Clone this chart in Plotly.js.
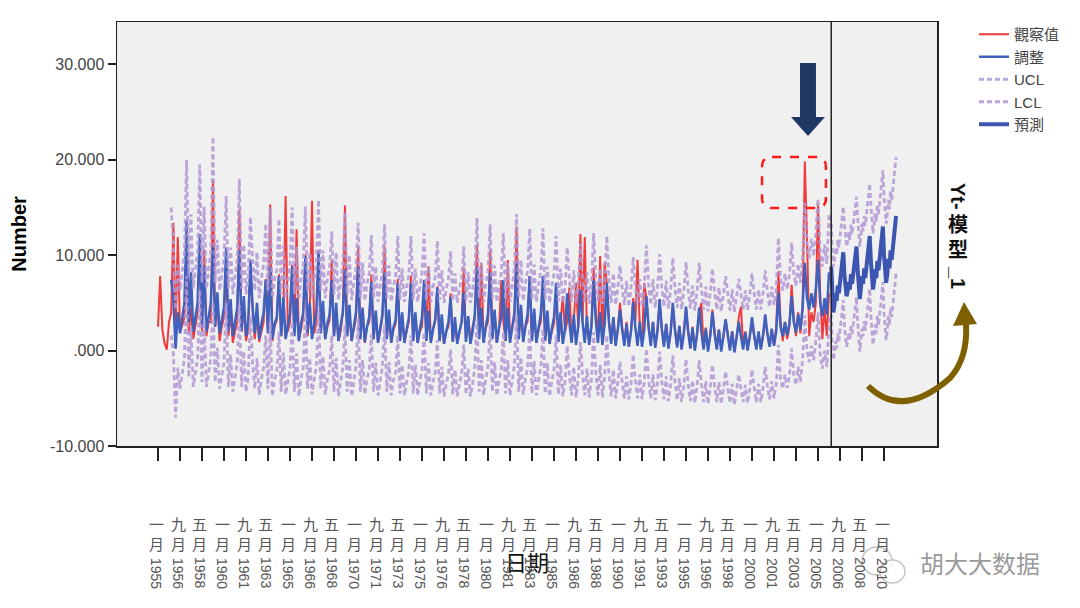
<!DOCTYPE html>
<html>
<head>
<meta charset="utf-8">
<script src="https://cdn.plot.ly/plotly-3.0.1.min.js"></script>
<style>html,body{margin:0;padding:0;background:#fff;}#chart{width:1080px;height:608px;}</style>
</head>
<body>
<div id="chart"></div>
<script>
const observed = [
2.5,7.8,2.2,0.8,0.1,3.0,
4.0,13.4,1.5,11.9,2.0,2.6,
3.5,9.5,1.8,4.5,1.2,2.8,
4.0,11.0,2.0,10.6,1.5,3.0,
3.0,17.8,2.5,5.0,1.0,2.5,
3.5,9.0,1.5,4.0,0.8,2.0,
3.0,14.8,2.0,4.5,1.0,2.2,
8.5,4.6,1.2,3.8,0.9,2.0,
3.0,7.5,2.0,15.3,1.0,2.5,
3.2,8.0,1.5,4.0,16.2,2.0,
3.0,9.0,1.8,12.7,1.0,2.2,
3.5,10.0,1.5,4.2,15.7,1.8,
3.0,10.5,2.0,4.5,1.2,2.5,
3.2,9.5,1.5,4.0,1.0,2.0,
4.0,15.2,1.5,4.2,1.0,2.2,
3.5,10.9,1.5,4.0,0.8,2.5,
3.0,8.0,1.2,3.5,0.9,2.0,
3.5,10.9,1.5,3.8,0.8,2.2,
2.8,7.5,1.0,3.5,1.0,2.0,
3.0,7.8,1.2,3.6,0.8,2.0,
2.5,7.0,1.5,8.8,1.0,2.2,
3.2,6.7,1.0,3.2,0.7,2.0,
2.5,6.0,1.0,3.0,0.8,1.8,
3.0,8.7,1.2,3.5,0.9,2.5,
3.5,11.1,1.5,9.2,1.0,2.4,
3.0,10.6,1.4,4.0,0.8,2.2,
7.4,3.0,1.0,9.5,1.2,2.5,
3.5,13.0,1.5,4.5,1.0,2.6,
3.0,7.8,1.2,4.0,0.9,2.2,
3.0,6.4,1.2,3.5,0.8,2.0,
2.8,6.0,1.0,3.0,5.7,2.0,
3.0,6.6,1.0,3.0,7.1,2.5,
12.2,3.0,11.9,2.0,1.0,2.5,
8.7,4.0,1.2,9.9,1.0,9.2,
7.0,3.0,1.0,3.5,0.8,2.2,
5.0,2.5,0.8,3.0,0.5,2.0,
5.5,3.0,9.5,2.5,0.8,7.1,
5.5,2.5,0.8,3.0,0.5,2.0,
5.0,2.4,0.6,2.8,0.4,1.8,
4.6,2.2,0.5,2.6,0.3,1.8,
4.5,2.0,0.4,2.5,0.2,1.6,
4.0,5.0,0.5,2.4,0.3,1.5,
4.3,2.0,0.4,2.2,0.2,1.5,
3.2,1.8,0.3,2.0,0.2,1.4,
3.5,4.6,0.5,2.0,0.4,1.5,
3.0,1.5,0.3,1.8,0.3,1.5,
3.2,1.8,0.5,2.0,0.5,2.5,
8.3,3.0,1.0,3.0,1.2,2.5,
6.9,3.5,1.5,4.0,1.8,4.5,
19.8,12.0,1.5,4.0,3.0,5.0,
15.5,6.0,1.2,4.5,1.5,6.0
];
const fitted = [
7.4,5.5,0.2,4.0,1.8,3.5,
5.0,13.6,3.0,8.2,2.0,3.5,
5.0,12.2,2.5,8.9,2.0,3.5,
5.0,10.9,2.5,6.1,1.8,3.2,
4.5,10.8,2.0,5.4,1.5,3.0,
4.5,10.6,2.0,5.7,1.5,3.0,
9.5,4.5,1.8,5.0,1.2,2.8,
4.0,7.4,1.8,8.8,1.2,2.8,
3.5,7.8,1.5,5.6,1.2,2.6,
4.0,8.8,1.5,5.5,1.0,2.8,
4.0,9.9,1.8,5.0,1.2,2.8,
4.2,10.4,1.8,5.2,1.2,2.8,
3.8,7.4,1.5,5.0,1.0,2.6,
4.0,8.5,1.5,4.8,1.0,2.5,
4.0,8.8,1.2,4.5,0.9,2.5,
3.5,7.2,1.2,4.2,0.8,2.3,
3.8,8.2,1.2,4.3,0.8,2.4,
3.2,7.1,1.0,4.0,0.8,2.2,
3.4,7.1,1.0,4.0,0.8,2.2,
3.5,7.4,1.0,4.2,0.8,2.2,
3.2,6.6,1.0,3.8,0.7,2.0,
3.0,5.6,0.9,3.5,0.7,2.0,
3.0,6.1,0.9,3.6,0.7,2.0,
3.8,8.8,1.2,4.5,0.8,2.5,
3.8,8.2,1.2,4.3,0.8,2.4,
3.5,7.4,1.0,4.5,0.8,2.4,
4.0,9.2,1.2,4.8,0.9,2.5,
3.8,7.8,1.0,4.4,0.8,2.4,
3.8,7.8,1.0,4.2,0.7,2.3,
3.5,7.1,0.9,4.0,0.7,2.2,
6.0,3.0,0.8,3.8,0.6,2.5,
6.4,3.0,0.8,3.6,0.6,2.5,
7.4,3.2,0.8,4.0,0.6,2.8,
7.1,3.0,0.7,3.5,0.5,2.2,
4.3,2.2,0.5,2.8,0.4,2.0,
5.1,2.4,0.5,3.0,0.4,2.2,
5.7,2.5,0.5,3.0,0.3,2.0,
5.4,2.3,0.4,2.8,0.2,1.9,
5.0,2.2,0.3,2.6,0.1,1.8,
4.6,2.0,0.2,2.4,0.0,1.7,
4.5,2.0,0.1,2.3,-0.1,1.6,
4.0,1.8,0.1,2.2,-0.1,1.5,
3.3,1.6,0.0,2.0,-0.2,1.4,
3.0,1.5,0.1,1.9,0.0,1.5,
3.5,1.6,0.1,2.0,0.1,1.6,
3.8,1.8,0.4,2.3,0.5,2.0,
6.1,2.5,1.5,3.0,1.6,2.8,
5.7,3.0,1.9,3.8,2.2,4.5,
9.2,5.5,4.3,6.0,4.5,6.5,
9.5,5.0,3.6,5.5,3.8,8.2
];
const uclHist = [
15.0,10.9,4.3,9.0,6.3,8.4,
10.3,20.0,7.8,14.3,6.5,8.4,
10.3,19.5,7.1,15.1,6.5,8.4,
10.3,22.4,7.1,11.6,6.3,8.0,
9.6,16.2,6.5,10.8,5.9,7.8,
9.6,18.0,6.5,11.1,5.9,7.8,
14.0,9.6,6.3,10.3,5.5,7.5,
9.0,13.3,6.3,15.0,5.5,7.5,
8.4,13.8,5.9,11.0,5.5,7.2,
9.0,15.0,5.9,10.9,5.3,7.5,
9.0,15.1,6.3,10.3,5.5,7.5,
9.3,15.8,6.3,10.5,5.5,7.5,
8.8,12.5,5.9,10.3,5.3,7.3,
9.0,14.5,5.9,10.0,5.3,7.1,
8.6,13.4,5.5,9.2,5.2,7.0,
8.1,12.1,5.5,8.8,5.1,6.7,
8.4,13.2,5.5,8.9,5.1,6.8,
7.7,12.0,5.3,8.6,5.1,6.6,
7.9,12.0,5.3,8.6,5.1,6.6,
8.1,12.3,5.3,8.8,5.1,6.6,
7.7,11.5,5.3,8.4,5.0,6.4,
7.5,10.4,5.2,8.1,5.0,6.4,
7.5,10.9,5.2,8.2,5.0,6.4,
8.4,13.9,5.5,9.2,5.1,7.0,
8.4,13.2,5.5,8.9,5.1,6.8,
8.1,12.3,5.3,9.2,5.1,6.8,
8.6,14.3,5.5,9.5,5.2,7.0,
8.4,12.8,5.3,9.0,5.1,6.8,
8.4,12.8,5.3,8.8,5.0,6.7,
8.1,12.0,5.2,8.6,5.0,6.6,
10.8,7.5,5.1,8.4,4.9,7.0,
11.2,7.5,5.1,8.2,4.9,7.0,
12.3,7.7,5.1,8.6,4.9,7.3,
12.0,7.5,5.0,8.1,4.8,6.6,
8.9,6.6,4.8,7.3,4.6,6.4,
9.8,6.8,4.8,7.5,4.6,6.6,
11.0,6.9,4.8,7.5,4.5,6.4,
10.1,6.7,4.6,7.3,4.4,6.3,
9.7,6.6,4.5,7.1,4.3,6.2,
9.3,6.4,4.4,6.8,4.2,6.1,
9.2,6.4,4.3,6.7,4.1,6.0,
8.6,6.2,4.3,6.6,4.1,5.9,
7.8,6.0,4.2,6.4,4.0,5.7,
7.5,5.9,4.3,6.3,4.2,5.9,
8.1,6.0,4.3,6.4,4.3,6.0,
8.4,6.2,4.6,6.7,4.8,6.4,
11.8,7.5,6.3,8.1,6.4,7.9,
11.3,8.1,6.8,9.1,7.1,9.9,
15.5,11.1,9.7,11.7,9.9,12.3,
15.9,10.5,8.8,11.1,9.1,14.3
];
const lclHist = [
1.6,-0.3,-7.0,-1.8,-4.0,-2.3,
-0.8,7.8,-2.8,2.4,-3.8,-2.3,
-0.8,6.4,-3.3,3.1,-3.8,-2.3,
-0.8,5.1,-3.3,0.3,-4.0,-2.6,
-1.3,5.0,-3.8,-0.4,-4.3,-2.8,
-1.3,4.8,-3.8,-0.1,-4.3,-2.8,
3.7,-1.3,-4.0,-0.8,-4.6,-3.0,
-1.8,1.6,-4.0,3.0,-4.8,-3.0,
-2.3,2.0,-4.3,-0.2,-4.6,-3.2,
-1.8,3.0,-4.3,-0.3,-4.8,-3.0,
-1.8,4.1,-4.0,-0.8,-4.6,-3.0,
-1.6,4.6,-4.0,-0.6,-4.6,-3.0,
-2.0,1.6,-4.3,-0.8,-4.8,-3.2,
-1.8,2.7,-4.3,-1.0,-4.8,-3.3,
-1.5,3.3,-4.3,-1.0,-4.6,-3.0,
-2.0,1.7,-4.3,-1.3,-4.7,-3.2,
-1.7,2.7,-4.3,-1.2,-4.7,-3.1,
-2.3,1.6,-4.5,-1.5,-4.7,-3.3,
-2.1,1.6,-4.5,-1.5,-4.7,-3.3,
-2.0,1.9,-4.5,-1.3,-4.7,-3.3,
-2.3,1.1,-4.5,-1.7,-4.8,-3.5,
-2.5,0.1,-4.6,-2.0,-4.8,-3.5,
-2.5,0.6,-4.6,-1.9,-4.8,-3.5,
-1.7,3.3,-4.3,-1.0,-4.7,-3.0,
-1.7,2.7,-4.3,-1.2,-4.7,-3.1,
-2.0,1.9,-4.5,-1.0,-4.7,-3.1,
-1.5,3.7,-4.3,-0.7,-4.6,-3.0,
-1.7,2.3,-4.5,-1.1,-4.7,-3.1,
-1.7,2.3,-4.5,-1.3,-4.8,-3.2,
-2.0,1.6,-4.6,-1.5,-4.8,-3.3,
0.5,-2.5,-4.7,-1.7,-4.9,-3.0,
0.9,-2.5,-4.7,-1.9,-4.9,-3.0,
1.9,-2.3,-4.7,-1.5,-4.9,-2.7,
1.6,-2.5,-4.8,-2.0,-5.0,-3.3,
-1.2,-3.3,-5.0,-2.7,-5.1,-3.5,
-0.4,-3.1,-5.0,-2.5,-5.1,-3.3,
0.2,-3.0,-5.0,-2.5,-5.2,-3.5,
-0.1,-3.2,-5.1,-2.7,-5.3,-3.6,
-0.5,-3.3,-5.2,-2.9,-5.4,-3.7,
-0.9,-3.5,-5.3,-3.1,-5.5,-3.8,
-1.0,-3.5,-5.4,-3.2,-5.6,-3.9,
-1.5,-3.7,-5.4,-3.3,-5.6,-4.0,
-2.2,-3.9,-5.5,-3.5,-5.7,-4.1,
-2.5,-4.0,-5.4,-3.6,-5.5,-4.0,
-2.0,-3.9,-5.4,-3.5,-5.4,-3.9,
-1.7,-3.7,-5.1,-3.2,-5.0,-3.5,
0.6,-3.0,-4.0,-2.5,-3.9,-2.7,
0.2,-2.5,-3.6,-1.7,-3.3,-1.0,
3.7,0.0,-1.2,0.5,-1.0,1.0,
4.0,-0.5,-1.9,0.0,-1.7,2.7
];
const forecast = [
8.8,5.5,4.0,4.8,6.0,5.2,6.8,6.0,7.0,7.8,9.0,10.3,
8.0,6.5,5.7,6.2,7.2,6.4,8.0,7.0,8.0,8.8,9.8,10.9,
8.6,6.8,5.4,6.5,7.8,7.0,8.6,7.6,8.8,9.6,10.8,12.0,
9.5,7.6,6.4,7.2,8.5,7.6,9.4,8.4,9.6,10.4,11.8,13.0,
10.0,8.2,7.1,8.0,9.6,8.6,10.5,9.5,10.8,11.6,12.8,14.1
];
const uclFcst = [
13.6,10.3,8.8,9.6,10.8,10.0,11.6,10.8,11.8,12.6,13.8,15.1,
13.2,11.7,10.9,11.4,12.4,11.6,13.2,12.2,13.2,14.0,15.0,16.1,
14.1,12.3,10.9,12.0,13.3,12.5,14.1,13.1,14.3,15.1,16.3,17.5,
15.4,13.5,12.3,13.1,14.4,13.5,15.3,14.3,15.5,16.3,17.7,18.9,
16.2,14.4,13.3,14.2,15.8,14.8,16.7,15.7,17.0,17.8,19.0,20.3
];
const lclFcst = [
3.8,0.5,-1.0,-0.2,1.0,0.2,1.8,1.0,2.0,2.8,4.0,5.3,
2.7,1.2,0.4,0.9,1.9,1.1,2.7,1.7,2.7,3.5,4.5,5.6,
3.1,1.3,-0.1,1.0,2.3,1.5,3.1,2.1,3.3,4.1,5.3,6.5,
3.7,1.8,0.6,1.4,2.7,1.8,3.6,2.6,3.8,4.6,6.0,7.2,
4.0,2.2,1.1,2.0,3.6,2.6,4.5,3.5,4.8,5.6,6.8,8.1
];
const seriesNames = ['觀察值','調整','UCL','LCL','預測'];
const tickMonths = ['一','九','五','一','九','五','一','九','五','一','九','五','一','九','五','一','九','五','一','九','五','一','九','五','一','九','五','一','九','五','一','九','五','一'];
const tickYears = [1955,1956,1958,1960,1961,1963,1965,1966,1968,1970,1971,1973,1975,1976,1978,1980,1981,1983,1985,1986,1988,1990,1991,1993,1995,1996,1998,2000,2001,2003,2005,2006,2008,2010];
const yTickVals = [-10,0,10,20,30];
const yTickText = ['-10.000','.000','10.000','20.000','30.000'];
// panel label pieces: [text, rotated?]
const panelLabel = [['Yt-',true],['模',false],['型',false],['_1',true]];

// ---- helpers ----
function monthSeq(y, m, n, step){
  const out=[];
  for(let i=0;i<n;i++){
    const t=(m-1)+i*step;
    const yy=y+Math.floor(t/12), mm=t%12+1;
    out.push(yy+'-'+String(mm).padStart(2,'0')+'-01');
  }
  return out;
}
const monthNum = {'一':'01','五':'05','九':'09'};
const tickVals = tickYears.map((y,i)=> y+'-'+monthNum[tickMonths[i]]+'-01');

const obsX = monthSeq(1955,1,observed.length,2);
const histX = monthSeq(1956,1,fitted.length,2);
const fcX = monthSeq(2006,1,forecast.length,1);

// plot box in pixels (for decorations)
const L=117, R=937, T=22, B=446;
const px = x => (x-L)/(R-L);
const py = y => (B-y)/(B-T);
const P = (x,y) => px(x).toFixed(4)+','+py(y).toFixed(4);

const purple = 'rgba(178,152,212,0.85)';
const traces = [
  {x: obsX, y: observed, name: seriesNames[0], type:'scatter', mode:'lines',
   line:{color:'#ef3b3b', width:2}},
  {x: histX, y: fitted, name: seriesNames[1], type:'scatter', mode:'lines',
   line:{color:'#4060bd', width:2.5}},
  {x: histX.concat(fcX), y: uclHist.concat(uclFcst), name: seriesNames[2], type:'scatter', mode:'lines',
   line:{color:purple, width:2.8, dash:'5px,3px'}},
  {x: histX.concat(fcX), y: lclHist.concat(lclFcst), name: seriesNames[3], type:'scatter', mode:'lines',
   line:{color:purple, width:2.8, dash:'5px,3px'}},
  {x: fcX, y: forecast, name: seriesNames[4], type:'scatter', mode:'lines',
   line:{color:'#3b55b0', width:4}}
];

const annotations = [];
tickVals.forEach((d,i)=>{
  annotations.push({x:d, xref:'x', y:py(533), yref:'paper', text:tickMonths[i]+'<br>月',
    showarrow:false, xshift:-2, yanchor:'middle', xanchor:'center',
    font:{family:'Noto Sans CJK TC, Noto Sans CJK SC', size:15, color:'#555'}});
  annotations.push({x:d, xref:'x', y:py(573), yref:'paper', text:String(tickYears[i]),
    showarrow:false, xshift:-2, textangle:90, yanchor:'middle', xanchor:'center',
    font:{family:'Liberation Sans, Arial', size:14, color:'#555'}});
});
const panelY = [196, 225, 250, 277];
panelLabel.forEach((p,i)=>{
  annotations.push({x:px(958), xref:'paper', y:py(panelY[i]), yref:'paper', text:'<b>'+p[0]+'</b>',
    showarrow:false, textangle:p[1]?90:0, xanchor:'center', yanchor:'middle',
    font:{family:'Liberation Sans, Noto Sans CJK TC', size:20, color:'#111'}});
});
annotations.push({x:px(980), xref:'paper', y:py(562), yref:'paper', text:'胡大大数据',
  showarrow:false, xanchor:'center', yanchor:'middle',
  font:{family:'Noto Sans CJK SC', size:24, color:'#9a9a9a'}});

const shapes = [
  {type:'line', xref:'x', yref:'paper', x0:'2006-01-01', x1:'2006-01-01', y0:0, y1:1,
   line:{color:'#222', width:1.5}},
  {type:'path', xref:'paper', yref:'paper', fillcolor:'#1f3864', line:{width:0},
   path:'M'+P(800,63)+' L'+P(816,63)+' L'+P(816,117)+' L'+P(825,117)+' L'+P(808,136)+' L'+P(791,117)+' L'+P(800,117)+' Z'},
  {type:'path', xref:'paper', yref:'paper', fillcolor:'rgba(0,0,0,0)', line:{color:'#ff1a1a', width:2.5, dash:'dash'},
   path:'M'+P(772,157)+' L'+P(816,157)+' Q'+P(826,157)+' '+P(826,167)+' L'+P(826,198)+' Q'+P(826,208)+' '+P(816,208)+
        ' L'+P(772,208)+' Q'+P(762,208)+' '+P(762,198)+' L'+P(762,167)+' Q'+P(762,157)+' '+P(772,157)+' Z'},
  {type:'path', xref:'paper', yref:'paper', fillcolor:'rgba(0,0,0,0)', line:{color:'#7f6000', width:6},
   path:'M'+P(868,386)+' Q'+P(902,420)+' '+P(950,378)+' Q'+P(968,358)+' '+P(966,324)},
  {type:'path', xref:'paper', yref:'paper', fillcolor:'#7f6000', line:{width:0},
   path:'M'+P(953,326)+' L'+P(977,324)+' L'+P(964,302)+' Z'},
  {type:'circle', xref:'paper', yref:'paper', x0:px(862), x1:px(892), y0:py(575), y1:py(547),
   line:{color:'#c4c4c4', width:1.5}, fillcolor:'rgba(0,0,0,0)'},
  {type:'circle', xref:'paper', yref:'paper', x0:px(880), x1:px(905), y0:py(583), y1:py(560),
   line:{color:'#c4c4c4', width:1.5}, fillcolor:'rgba(255,255,255,0.85)'}
];

const layout = {
  width:1080, height:608,
  margin:{l:L, r:1080-R, t:T, b:608-B},
  paper_bgcolor:'#ffffff', plot_bgcolor:'#f0f0f0',
  font:{family:'Liberation Sans, Arial, Noto Sans CJK TC', color:'#444'},
  showlegend:true,
  legend:{x:px(974), y:py(18), xanchor:'left', yanchor:'top', bgcolor:'rgba(0,0,0,0)',
    font:{family:'Liberation Sans, Noto Sans CJK TC', size:15, color:'#444'}, itemwidth:30, tracegroupgap:0},
  xaxis:{type:'date', range:['1951-11-23','2014-01-06'], showgrid:false, zeroline:false,
    showline:true, mirror:true, linecolor:'#222', linewidth:1.5,
    tickmode:'array', tickvals:tickVals, showticklabels:false,
    ticks:'outside', ticklen:13, tickwidth:2, tickcolor:'#222',
    title:{text:'日期', standoff:96, font:{family:'Noto Sans CJK SC', size:22, color:'#111'}}},
  yaxis:{range:[-10,34.43], showgrid:false, zeroline:false,
    showline:true, mirror:true, linecolor:'#222', linewidth:1.5,
    tickmode:'array', tickvals:yTickVals, ticktext:yTickText,
    ticks:'outside', ticklen:8, tickwidth:2, tickcolor:'#222',
    tickfont:{family:'Liberation Sans, Arial', size:16, color:'#444'},
    title:{text:'<b>Number</b>', standoff:18, font:{family:'Liberation Sans, Arial', size:20, color:'#000'}}},
  annotations: annotations,
  shapes: shapes
};

Plotly.newPlot('chart', traces, layout, {displayModeBar:false, staticPlot:true});
</script>
</body>
</html>
